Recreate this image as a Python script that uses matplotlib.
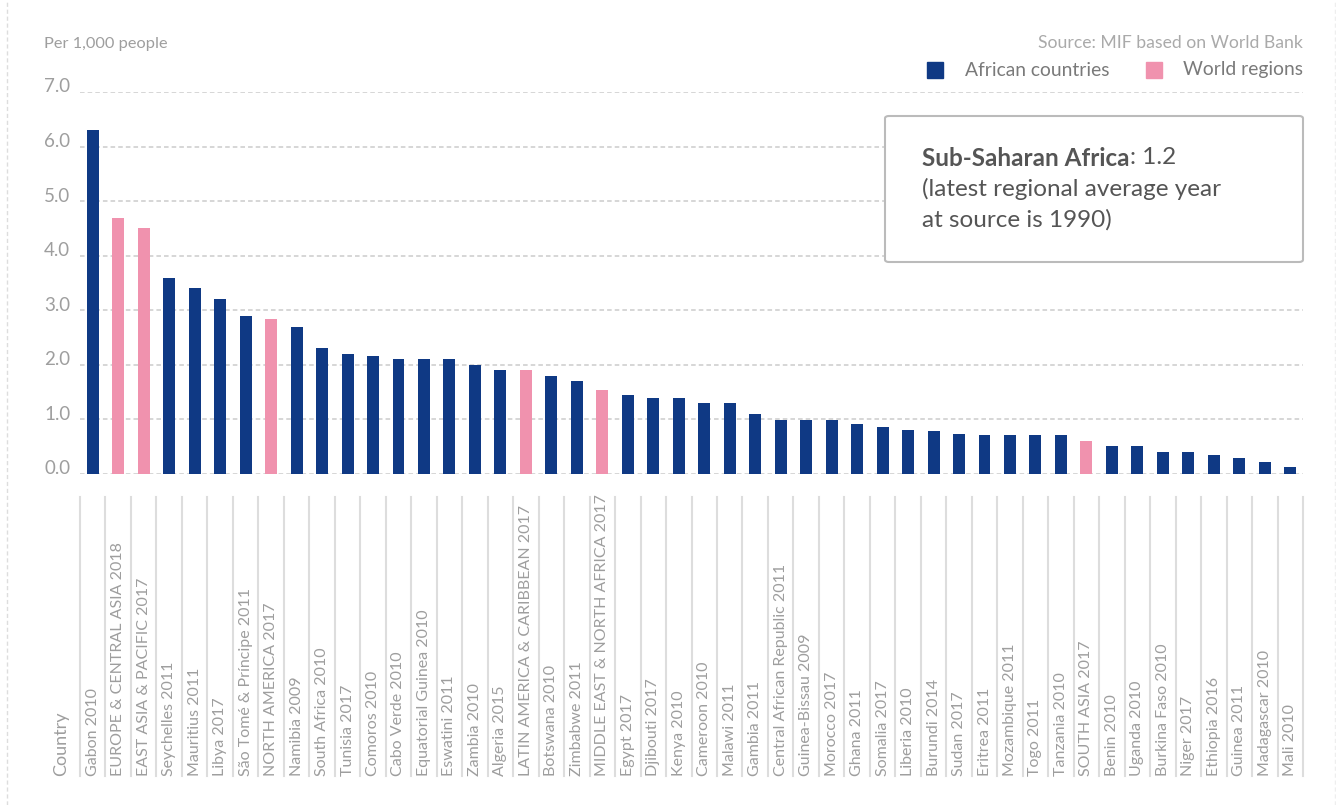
import matplotlib
matplotlib.use("Agg")
import matplotlib.pyplot as plt
from matplotlib.patches import FancyBboxPatch, Rectangle
from matplotlib.lines import Line2D
from matplotlib.transforms import blended_transform_factory

plt.rcParams['font.family'] = ['Lato', 'DejaVu Sans']

categories = [
    "Gabon 2010", "EUROPE & CENTRAL ASIA 2018", "EAST ASIA & PACIFIC 2017",
    "Seychelles 2011", "Mauritius 2011", "Libya 2017", "São Tomé & Príncipe 2011",
    "NORTH AMERICA 2017", "Namibia 2009", "South Africa 2010", "Tunisia 2017",
    "Comoros 2010", "Cabo Verde 2010", "Equatorial Guinea 2010", "Eswatini 2011",
    "Zambia 2010", "Algeria 2015", "LATIN AMERICA & CARIBBEAN 2017", "Botswana 2010",
    "Zimbabwe 2011", "MIDDLE EAST & NORTH AFRICA 2017", "Egypt 2017", "Djibouti 2017",
    "Kenya 2010", "Cameroon 2010", "Malawi 2011", "Gambia 2011",
    "Central African Republic 2011", "Guinea-Bissau 2009", "Morocco 2017", "Ghana 2011",
    "Somalia 2017", "Liberia 2010", "Burundi 2014", "Sudan 2017", "Eritrea 2011",
    "Mozambique 2011", "Togo 2011", "Tanzania 2010", "SOUTH ASIA 2017", "Benin 2010",
    "Uganda 2010", "Burkina Faso 2010", "Niger 2017", "Ethiopia 2016", "Guinea 2011",
    "Madagascar 2010", "Mali 2010",
]
values = [
    6.3, 4.7, 4.5, 3.6, 3.4, 3.2, 2.9, 2.84, 2.7, 2.3, 2.2, 2.16, 2.1, 2.1, 2.1,
    2.0, 1.9, 1.9, 1.8, 1.7, 1.54, 1.44, 1.4, 1.4, 1.3, 1.3, 1.1, 0.99, 0.99, 0.99,
    0.91, 0.86, 0.8, 0.78, 0.73, 0.71, 0.71, 0.71, 0.71, 0.6, 0.51, 0.51, 0.4, 0.4,
    0.35, 0.29, 0.22, 0.13,
]
groups = [
    "A", "W", "W", "A", "A", "A", "A", "W", "A", "A", "A", "A", "A", "A", "A",
    "A", "A", "W", "A", "A", "W", "A", "A", "A", "A", "A", "A", "A", "A", "A",
    "A", "A", "A", "A", "A", "A", "A", "A", "A", "W", "A", "A", "A", "A", "A",
    "A", "A", "A",
]
yticks = [0, 1, 2, 3, 4, 5, 6, 7]
legend_labels = ["African countries", "World regions"]

NAVY = "#0f3984"
PINK = "#f092ae"
GREY = "#9e9e9e"
colors = {"A": NAVY, "W": PINK}

W, H = 1336, 805
fig = plt.figure(figsize=(W / 100, H / 100), dpi=100)
ax = fig.add_axes([80 / W, (H - 474) / H, 1223 / W, 382 / H])

n = len(categories)
xs = list(range(n))
ax.bar(xs, values, width=0.47, color=[colors[g] for g in groups], zorder=3)
ax.set_xlim(-0.5, n - 0.5)
ax.set_ylim(0, 7)
for s in ax.spines.values():
    s.set_visible(False)
ax.set_xticks([])
ax.set_yticks(yticks)
ax.set_yticklabels([])
ax.tick_params(length=0)
for t in yticks:
    ax.axhline(t, color="#cccccc", lw=1.1, ls=(0, (3, 2)), zorder=1)
    fig.text(44 / W, (ax.transData.transform((0, t))[1] + 5) / H, f"{t:.1f}",
             ha="left", va="center", fontsize=13.5, color=GREY)

# category labels and separators
tr = blended_transform_factory(ax.transData, fig.transFigure)
for i, lab in enumerate(categories):
    ax.text(i, (H - 776) / H, lab, rotation=90, ha="center", va="bottom",
            fontsize=11.5, color=GREY, transform=tr, clip_on=False)
for i in range(n + 1):
    ax.add_line(Line2D([i - 0.5, i - 0.5], [(H - 497) / H, (H - 776) / H],
                       transform=tr, color="#dddddd", lw=1.5, clip_on=False))
fig.text(61 / W, (H - 776) / H, "Country", rotation=90, ha="center", va="bottom",
         fontsize=13, color=GREY)

# frame dashed lines at left/right edges
fig.add_artist(Line2D([6.5 / W, 6.5 / W], [0, 1], color="#dddddd", lw=1,
                      ls=(0, (3, 2))))
fig.add_artist(Line2D([1334.5 / W, 1334.5 / W], [0, 1], color="#eeeeee", lw=1,
                      ls=(0, (3, 2))))

# header texts
fig.text(44 / W, (H - 44) / H, "Per 1,000 people", ha="left", va="center",
         fontsize=11.8, color=GREY)
fig.text(1303 / W, (H - 43) / H, "Source: MIF based on World Bank", ha="right",
         va="center", fontsize=12.7, color="#aaaaaa")

# legend
fig.add_artist(Rectangle((927 / W, (H - 78) / H), 16 / W, 16 / H, color=NAVY,
                         transform=fig.transFigure))
fig.text(965 / W, (H - 70) / H, legend_labels[0], ha="left", va="center",
         fontsize=13.9, color="#7a7a7a")
fig.add_artist(Rectangle((1146 / W, (H - 78) / H), 16 / W, 16 / H, color=PINK,
                         transform=fig.transFigure))
fig.text(1303 / W, (H - 70) / H, legend_labels[1], ha="right", va="center",
         fontsize=13.9, color="#7a7a7a")

# annotation box
box = FancyBboxPatch((885 / W, (H - 262) / H), 418 / W, 146 / H,
                     boxstyle="round,pad=0,rounding_size=0.003",
                     transform=fig.transFigure, facecolor="white",
                     edgecolor="#bbbbbb", lw=1.5, zorder=5)
fig.add_artist(box)
FS = 17.5
t1 = fig.text(922 / W, (H - 158) / H, "Sub-Saharan Africa", ha="left",
              va="center", fontsize=FS, fontweight="bold", color="#555555",
              zorder=6)
fig.canvas.draw()
bb = t1.get_window_extent()
fig.text(bb.x1 / W, (H - 158) / H, ": 1.2", ha="left", va="center",
         fontsize=FS, color="#555555", zorder=6)
fig.text(922 / W, (H - 189) / H, "(latest regional average year", ha="left",
         va="center", fontsize=FS, color="#555555", zorder=6)
fig.text(922 / W, (H - 220) / H, "at source is 1990)", ha="left",
         va="center", fontsize=FS, color="#555555", zorder=6)

fig.savefig("out.png", dpi=100, facecolor="white")
